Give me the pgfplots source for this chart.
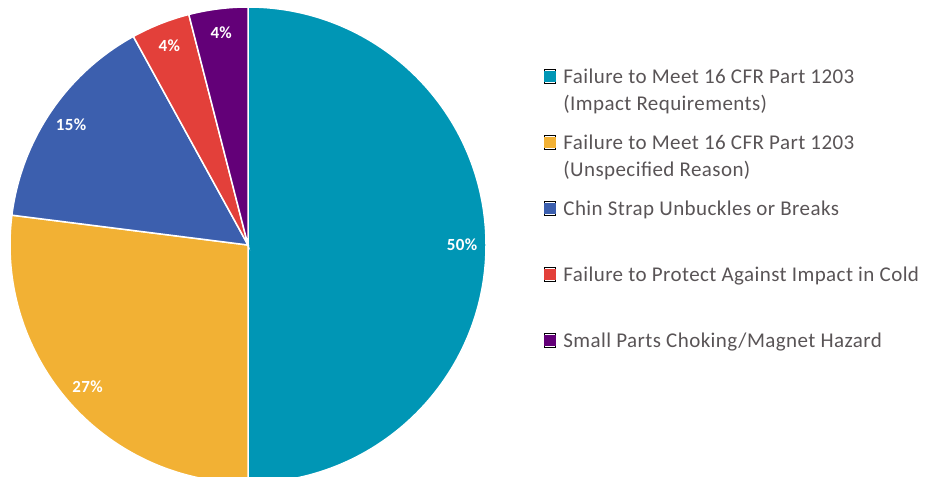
\documentclass[border=0pt]{standalone}
\usepackage{pgfplots}
\pgfplotsset{compat=1.18}
\usepackage{pgfplotstable}
\usepackage{fontspec}
\setmainfont{Carlito}[LetterSpace=2]

\definecolor{cteal}{HTML}{0096B5}
\definecolor{cyellow}{HTML}{F2B134}
\definecolor{cblue}{HTML}{3C5FAE}
\definecolor{cred}{HTML}{E3403A}
\definecolor{cpurple}{HTML}{630078}
\definecolor{legendgrey}{RGB}{89,84,86}

% start = cumulative share before the slice, value = share of the slice
\pgfplotstableread{
start value
0  50
50 27
77 15
92 4
96 4
}\piedata

% parse an expression with the fpu and hand back a fixed point number
\newcommand\fixedcalc[2]{%
  \pgfkeys{/pgf/fpu=true}%
  \pgfmathparse{#2}%
  \pgfmathfloattofixed{\pgfmathresult}%
  \global\let#1\pgfmathresult
  \pgfkeys{/pgf/fpu=false}%
}

\pgfdeclareplotmark{nothing}{}

\pgfplotsset{
  pieslice/.style={
    only marks, scatter, clip=false, mark=nothing,
    visualization depends on={\thisrow{start} \as \pst},
    visualization depends on={\thisrow{value} \as \pval},
    scatter/@pre marker code/.code={
      \fixedcalc\sa{90-3.6*\pst}
      \fixedcalc\sb{90-3.6*(\pst+\pval)}
      \fixedcalc\sm{90-3.6*(\pst+0.5*\pval)}
      \fixedcalc\pv{\pval}
      \filldraw[fill=#1, draw=white, line width=1.5bp]
        (0bp,0bp) -- (\sa:238bp) arc[start angle=\sa, end angle=\sb, radius=238bp] -- cycle;
      \node[text=white, font=\fontsize{17bp}{19bp}\selectfont\bfseries]
        at (\sm:214bp) {\pgfmathprintnumber[assume math mode=true]{\pv}\%};
    },
    scatter/@post marker code/.code={},
    legend image code/.code={
      \path (0bp,0bp) rectangle (11bp,14bp);
      \fill[#1] (0bp,2bp) rectangle (11bp,12bp);
    },
  },
}

\begin{document}
\begin{tikzpicture}
\begin{axis}[
    at={(10bp,-6bp)}, anchor=south west,
    scale only axis, width=476bp, height=476bp,
    xmin=-1, xmax=1, ymin=-1, ymax=1,
    hide axis, clip=false,
    legend cell align=left,
    legend style={
        at={(rel axis cs:1.12185,0.87395)}, anchor=north west,
        draw=none, fill=none, inner sep=0pt, outer sep=0pt,
        row sep=0pt, column sep=8bp,
        cells={anchor=base west},
        nodes={inner sep=0pt, text height=16bp, text depth=50bp,
               font=\fontsize{21bp}{27bp}\selectfont, text=legendgrey},
    },
]
\addplot[pieslice=cteal]   table[x expr=0, y expr=0, restrict expr to domain={\coordindex}{0:0}] {\piedata};
\addlegendentry{\begin{tabular}[t]{@{}l@{}}Failure to Meet 16 CFR Part 1203\\(Impact Requirements)\end{tabular}}
\addplot[pieslice=cyellow] table[x expr=0, y expr=0, restrict expr to domain={\coordindex}{1:1}] {\piedata};
\addlegendentry{\begin{tabular}[t]{@{}l@{}}Failure to Meet 16 CFR Part 1203\\(Unspecified Reason)\end{tabular}}
\addplot[pieslice=cblue]   table[x expr=0, y expr=0, restrict expr to domain={\coordindex}{2:2}] {\piedata};
\addlegendentry{Chin Strap Unbuckles or Breaks}
\addplot[pieslice=cred]    table[x expr=0, y expr=0, restrict expr to domain={\coordindex}{3:3}] {\piedata};
\addlegendentry{Failure to Protect Against Impact in Cold}
\addplot[pieslice=cpurple] table[x expr=0, y expr=0, restrict expr to domain={\coordindex}{4:4}] {\piedata};
\addlegendentry{Small Parts Choking/Magnet Hazard}
\end{axis}
\pgfresetboundingbox
\useasboundingbox (0,0) rectangle (930bp,477bp);
\end{tikzpicture}
\end{document}
